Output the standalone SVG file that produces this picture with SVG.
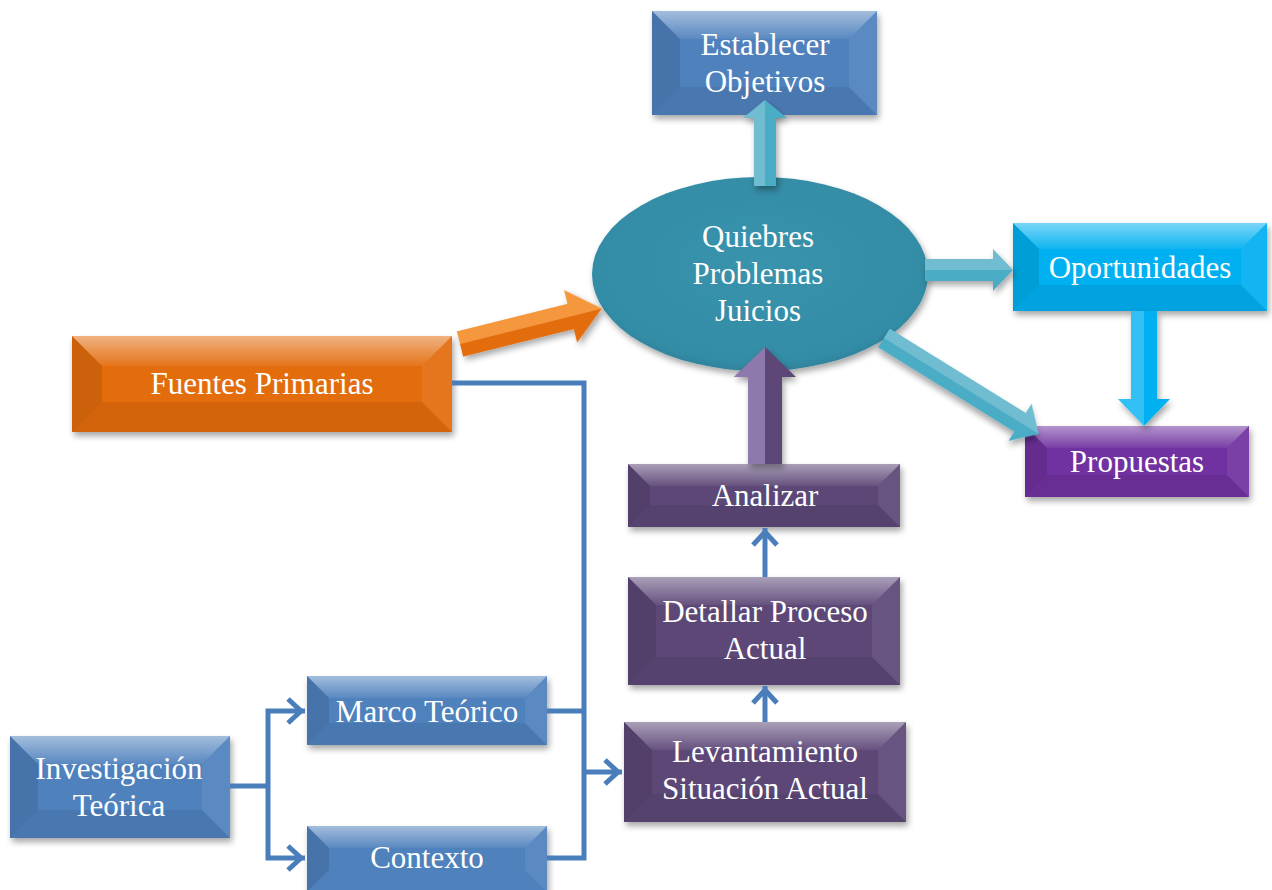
<svg xmlns="http://www.w3.org/2000/svg" width="1272" height="890" viewBox="0 0 1272 890">
  <defs>
    <style>
      .t { font-family: "Liberation Serif", "Times New Roman", serif; font-size: 31px; fill: #ffffff; text-anchor: middle; }
      .base { filter: url(#sh); }
      .blue { fill: #4f81bd; }
      .orange { fill: #e36c0a; }
      .plum { fill: #5c4677; }
      .violet { fill: #7030a0; }
      .cyan { fill: #00b0f0; }
      .bt { fill: url(#hi); }
      .bl { fill: #000000; opacity: 0.10; }
      .br { fill: #ffffff; opacity: 0.07; }
      .bb { fill: #000000; opacity: 0.07; }
      .line { fill: none; stroke: #4a7ebb; stroke-width: 5; stroke-linejoin: miter; }
      .arr { fill: none; stroke: #4a7ebb; stroke-width: 5; marker-end: url(#chev); }
      .lit { fill: #ffffff; opacity: 0.2; }
    </style>
    <filter id="sh" x="-10%" y="-15%" width="125%" height="145%">
      <feDropShadow dx="2" dy="4" stdDeviation="3" flood-color="#000" flood-opacity="0.35"/>
    </filter>
    <linearGradient id="hi" x1="0" y1="0" x2="0" y2="1">
      <stop offset="0" stop-color="#fff" stop-opacity="0.48"/>
      <stop offset="1" stop-color="#fff" stop-opacity="0.06"/>
    </linearGradient>
    <radialGradient id="teal" cx="0.5" cy="0.45" r="0.6">
      <stop offset="0" stop-color="#3993ad"/>
      <stop offset="0.85" stop-color="#338ca5"/>
      <stop offset="1" stop-color="#2a7690"/>
    </radialGradient>
    <marker id="chev" viewBox="-22 -16 24 32" refX="0" refY="0" markerWidth="24" markerHeight="32" markerUnits="userSpaceOnUse" orient="auto" overflow="visible">
      <path d="M-17,-12 L-4,0 L-17,12" fill="none" stroke="#4a7ebb" stroke-width="5"/>
    </marker>
  </defs>

  <rect width="1272" height="890" fill="#ffffff"/>

  <!-- central ellipse -->
  <g id="quiebres">
    <ellipse cx="760" cy="274" rx="168" ry="97" fill="url(#teal)" filter="url(#sh)"/>
    <text class="t" x="758" y="247">Quiebres</text>
    <text class="t" x="758" y="284">Problemas</text>
    <text class="t" x="758" y="321">Juicios</text>
  </g>

  <g id="establecer">
    <rect class="base blue" x="652" y="11" width="225" height="104"/>
    <polygon class="bt" points="652,11 877,11 849,39 680,39"/>
    <polygon class="bl" points="652,11 680,39 680,87 652,115"/>
    <polygon class="br" points="877,11 877,115 849,87 849,39"/>
    <polygon class="bb" points="652,115 680,87 849,87 877,115"/>
    <text class="t" x="765" y="55">Establecer</text>
    <text class="t" x="765" y="92">Objetivos</text>
  </g>

  <g id="oportunidades">
    <rect class="base cyan" x="1013" y="223" width="254" height="88"/>
    <polygon class="bt" points="1013,223 1267,223 1241,249 1039,249"/>
    <polygon class="bl" points="1013,223 1039,249 1039,285 1013,311"/>
    <polygon class="br" points="1267,223 1267,311 1241,285 1241,249"/>
    <polygon class="bb" points="1013,311 1039,285 1241,285 1267,311"/>
    <text class="t" x="1140" y="278">Oportunidades</text>
  </g>

  <g id="propuestas">
    <rect class="base violet" x="1025" y="426" width="224" height="71"/>
    <polygon class="bt" points="1025,426 1249,426 1227,448 1047,448"/>
    <polygon class="bl" points="1025,426 1047,448 1047,475 1025,497"/>
    <polygon class="br" points="1249,426 1249,497 1227,475 1227,448"/>
    <polygon class="bb" points="1025,497 1047,475 1227,475 1249,497"/>
    <text class="t" x="1137" y="472">Propuestas</text>
  </g>

  <g id="fuentes">
    <rect class="base orange" x="72" y="336" width="380" height="96"/>
    <polygon class="bt" points="72,336 452,336 422,366 102,366"/>
    <polygon class="bl" points="72,336 102,366 102,402 72,432"/>
    <polygon class="br" points="452,336 452,432 422,402 422,366"/>
    <polygon class="bb" points="72,432 102,402 422,402 452,432"/>
    <text class="t" x="262" y="394">Fuentes Primarias</text>
  </g>

  <g id="analizar">
    <rect class="base plum" x="628" y="464" width="272" height="63"/>
    <polygon class="bt" points="628,464 900,464 878,486 650,486"/>
    <polygon class="bl" points="628,464 650,486 650,505 628,527"/>
    <polygon class="br" points="900,464 900,527 878,505 878,486"/>
    <polygon class="bb" points="628,527 650,505 878,505 900,527"/>
    <text class="t" x="765" y="506">Analizar</text>
  </g>

  <g id="detallar">
    <rect class="base plum" x="628" y="577" width="272" height="108"/>
    <polygon class="bt" points="628,577 900,577 872,605 656,605"/>
    <polygon class="bl" points="628,577 656,605 656,657 628,685"/>
    <polygon class="br" points="900,577 900,685 872,657 872,605"/>
    <polygon class="bb" points="628,685 656,657 872,657 900,685"/>
    <text class="t" x="765" y="622">Detallar Proceso</text>
    <text class="t" x="765" y="659">Actual</text>
  </g>

  <g id="levantamiento">
    <rect class="base plum" x="624" y="722" width="282" height="100"/>
    <polygon class="bt" points="624,722 906,722 878,750 652,750"/>
    <polygon class="bl" points="624,722 652,750 652,794 624,822"/>
    <polygon class="br" points="906,722 906,822 878,794 878,750"/>
    <polygon class="bb" points="624,822 652,794 878,794 906,822"/>
    <text class="t" x="765" y="762">Levantamiento</text>
    <text class="t" x="765" y="799">Situación Actual</text>
  </g>

  <g id="investigacion">
    <rect class="base blue" x="10" y="736" width="220" height="102"/>
    <polygon class="bt" points="10,736 230,736 202,764 38,764"/>
    <polygon class="bl" points="10,736 38,764 38,810 10,838"/>
    <polygon class="br" points="230,736 230,838 202,810 202,764"/>
    <polygon class="bb" points="10,838 38,810 202,810 230,838"/>
    <text class="t" x="119" y="779">Investigación</text>
    <text class="t" x="119" y="816">Teórica</text>
  </g>

  <g id="marco">
    <rect class="base blue" x="307" y="676" width="240" height="69"/>
    <polygon class="bt" points="307,676 547,676 525,698 329,698"/>
    <polygon class="bl" points="307,676 329,698 329,723 307,745"/>
    <polygon class="br" points="547,676 547,745 525,723 525,698"/>
    <polygon class="bb" points="307,745 329,723 525,723 547,745"/>
    <text class="t" x="427" y="722">Marco Teórico</text>
  </g>

  <g id="contexto">
    <rect class="base blue" x="307" y="826" width="240" height="66"/>
    <polygon class="bt" points="307,826 547,826 525,848 329,848"/>
    <polygon class="bl" points="307,826 329,848 329,870 307,892"/>
    <polygon class="br" points="547,826 547,892 525,870 525,848"/>
    <text class="t" x="427" y="868">Contexto</text>
  </g>

  <!-- connectors -->
  <g id="connectors">
    <path class="line" d="M452,383 H584 V858 H547"/>
    <path class="line" d="M547,711 H584"/>
    <path class="arr" d="M584,772 H622"/>
    <path class="line" d="M230,786 H268"/>
    <path class="arr" d="M268,786 V711 H305"/>
    <path class="arr" d="M268,786 V858 H305"/>
    <path class="arr" d="M765,722 V686"/>
    <path class="arr" d="M765,577 V528"/>

    <!-- block arrows -->
    <g filter="url(#sh)">
      <polygon fill="#4bacc6" points="754,186 754,118 743,118 765,100 787,118 776,118 776,186"/>
      <polygon class="lit" points="754,186 754,118 743,118 765,100 765,186"/>
    </g>
    <g filter="url(#sh)">
      <polygon fill="#4bacc6" points="925,259 993,259 993,249 1013,270 993,291 993,281 925,281"/>
      <polygon class="lit" points="925,259 993,259 993,249 1013,270 925,270"/>
    </g>
    <g filter="url(#sh)" transform="translate(884,338) rotate(31.8)">
      <polygon fill="#4bacc6" points="0,-11 160,-11 160,-22 182,0 160,22 160,11 0,11"/>
      <polygon class="lit" points="0,-11 160,-11 160,-22 182,0 0,0"/>
    </g>
    <g filter="url(#sh)">
      <polygon fill="#00b0f0" points="1131,311 1157,311 1157,399 1170,399 1144,426 1118,399 1131,399"/>
      <polygon class="lit" points="1131,311 1144,311 1144,426 1118,399 1131,399"/>
    </g>
    <g filter="url(#sh)">
      <polygon fill="#5c4677" points="748,464 748,377 734,377 765,347 796,377 782,377 782,464"/>
      <polygon fill="#a48fc4" opacity="0.7" points="748,464 748,377 734,377 765,347 765,464"/>
    </g>
    <g filter="url(#sh)" transform="translate(460,344) rotate(-14)">
      <polygon fill="#e36c0a" points="0,-13 114,-13 114,-27 146,0 114,27 114,13 0,13"/>
      <polygon fill="#f9a24a" opacity="0.8" points="0,-13 114,-13 114,-27 146,0 0,0"/>
    </g>
  </g>
</svg>
